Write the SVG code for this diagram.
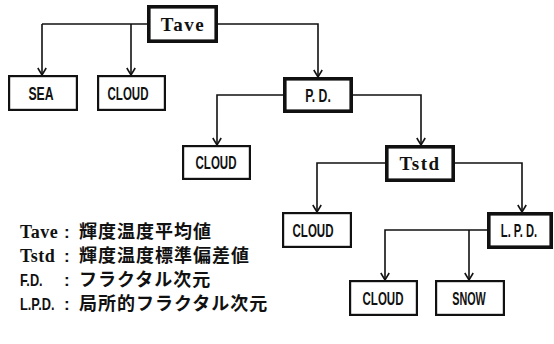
<svg xmlns="http://www.w3.org/2000/svg" width="554" height="344" viewBox="0 0 554 344">
<defs>
<marker id="arr" viewBox="0 0 8 10" refX="7.5" refY="5" markerWidth="8" markerHeight="10" markerUnits="userSpaceOnUse" orient="auto" overflow="visible">
<path d="M0.5,0.8 L7.5,5 L0.5,9.2" fill="none" stroke="#111" stroke-width="1.6"/>
</marker>
<style>
.b{fill:#fff;stroke:#111;stroke-width:2.2}
.bt{fill:#fff;stroke:#111;stroke-width:3.6}
.c{fill:none;stroke:#111;stroke-width:1.6}
.ca{fill:none;stroke:#111;stroke-width:1.6;marker-end:url(#arr)}
.s{font-family:"Liberation Sans",Arial,sans-serif;font-weight:bold;font-size:18px;fill:#111;text-anchor:middle}
.t{font-family:"Liberation Serif","Times New Roman",serif;font-weight:bold;font-size:19px;fill:#111;text-anchor:middle;letter-spacing:1.5px}
.lt{font-family:"Liberation Serif","Times New Roman",serif;font-weight:bold;font-size:18px;fill:#111;letter-spacing:0.5px}
.ls{font-family:"Liberation Sans",Arial,sans-serif;font-weight:bold;font-size:17px;fill:#111}
.j{font-family:"Noto Sans CJK JP","Noto Sans CJK SC",sans-serif;font-weight:bold;font-size:18px;letter-spacing:1px;fill:#111}
</style>
</defs>
<g id="connectors">
<path class="c" d="M147,24 H42"/>
<path class="ca" d="M42,24 V75"/>
<path class="ca" d="M131,24 V75"/>
<path class="ca" d="M218,24 H318 V77"/>
<path class="ca" d="M283,95 H217 V145"/>
<path class="ca" d="M353,95 H421 V145"/>
<path class="ca" d="M385,163 H317 V212"/>
<path class="ca" d="M455,163 H522 V212"/>
<path class="ca" d="M487,230 H385 V280"/>
<path class="ca" d="M469,230 V280"/>
</g>
<g id="tave">
<rect class="bt" x="148.8" y="6.8" width="67.4" height="34.4"/>
<text class="t" x="183" y="31">Tave</text>
</g>
<g id="sea">
<rect class="b" x="9.1" y="76.1" width="67.8" height="33.8"/>
<text class="s" transform="translate(41,99.5) scale(0.68,1)">SEA</text>
</g>
<g id="cloud1">
<rect class="b" x="98.1" y="76.1" width="66.8" height="33.8"/>
<text class="s" transform="translate(128,99.5) scale(0.64,1)">CLOUD</text>
</g>
<g id="pd">
<rect class="bt" x="284.8" y="78.8" width="66.4" height="32.4"/>
<text class="s" transform="translate(318,101.5) scale(0.68,1)">P. D.</text>
</g>
<g id="cloud2">
<rect class="b" x="183.1" y="146.1" width="66.8" height="32.8"/>
<text class="s" transform="translate(216,169) scale(0.64,1)">CLOUD</text>
</g>
<g id="tstd">
<rect class="bt" x="386.8" y="146.8" width="66.4" height="33.4"/>
<text class="t" x="420" y="170">Tstd</text>
</g>
<g id="cloud3">
<rect class="b" x="283.1" y="213.1" width="67.8" height="33.8"/>
<text class="s" transform="translate(313,236.5) scale(0.64,1)">CLOUD</text>
</g>
<g id="lpd">
<rect class="bt" x="488.8" y="213.8" width="62.4" height="33.4"/>
<text class="s" transform="translate(519,237) scale(0.62,1)">L. P. D.</text>
</g>
<g id="cloud4">
<rect class="b" x="350.1" y="281.1" width="66.8" height="33.8"/>
<text class="s" transform="translate(383,304.5) scale(0.64,1)">CLOUD</text>
</g>
<g id="snow">
<rect class="b" x="436.1" y="281.1" width="67.8" height="33.8"/>
<text class="s" transform="translate(469,304.5) scale(0.6,1)">SNOW</text>
</g>
<g id="legend">
<text class="lt" x="20" y="238">Tave</text>
<text class="ls" x="64" y="238">:</text>
<text class="j" x="79" y="238">輝度温度平均値</text>
<text class="lt" x="20" y="262">Tstd</text>
<text class="ls" x="64" y="262">:</text>
<text class="j" x="79" y="262">輝度温度標準偏差値</text>
<text class="ls" transform="translate(20,286) scale(0.75,1)">F.D.</text>
<text class="ls" x="64" y="286">:</text>
<text class="j" x="79" y="286">フラクタル次元</text>
<text class="ls" transform="translate(20,310) scale(0.75,1)">L.P.D.</text>
<text class="ls" x="64" y="310">:</text>
<text class="j" x="79" y="310">局所的フラクタル次元</text>
</g>
</svg>
